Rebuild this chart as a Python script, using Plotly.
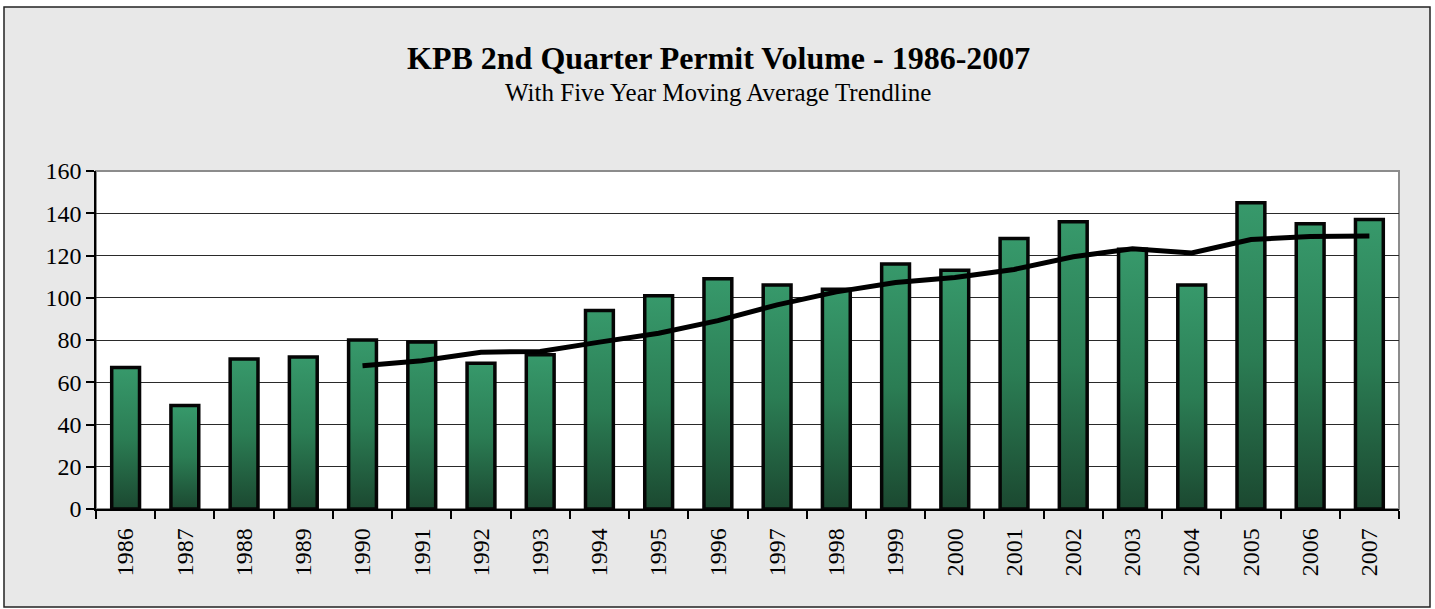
import plotly.graph_objects as go

years = list(range(1986, 2008))
permits = [67, 49, 71, 72, 80, 79, 69, 73, 94, 101, 109, 106, 104, 116, 113, 128, 136, 123, 106, 145, 135, 137]
ma_years = list(range(1990, 2008))
moving_avg = [67.8, 70.2, 74.2, 74.6, 79.0, 83.2, 89.2, 96.6, 102.8, 107.2, 109.6, 113.4, 119.4, 123.2, 121.2, 127.6, 129.0, 129.2]
y_ticks = [0, 20, 40, 60, 80, 100, 120, 140, 160]

BAR_W = 0.47
FONT = "Liberation Serif, Times New Roman, serif"
GRAD = [[0, "#1b4830"], [0.5, "#2b7d54"], [1, "#37996b"]]

fig = go.Figure()

# invisible bars for hover; plotly draws the bar layer under scatter fills
fig.add_trace(go.Bar(
    x=years, y=permits, width=BAR_W,
    marker=dict(color="rgba(0,0,0,0)", line=dict(width=0)),
    hovertemplate="%{x}: %{y}<extra></extra>", showlegend=False,
))

# gradient fills with black outline (plotly bars have no gradient)
for yr, v in zip(years, permits):
    h = BAR_W / 2
    fig.add_trace(go.Scatter(
        x=[yr - h, yr - h, yr + h, yr + h, yr - h], y=[0, v, v, 0, 0],
        mode="lines", fill="toself", line=dict(color="#050505", width=3.5),
        fillgradient=dict(type="vertical", colorscale=GRAD),
        hoverinfo="skip", showlegend=False,
    ))

fig.add_trace(go.Scatter(
    x=ma_years, y=moving_avg, mode="lines",
    line=dict(color="#000000", width=5),
    hovertemplate="%{x}: %{y:.1f}<extra>5yr avg</extra>", showlegend=False,
))

W, H = 1435, 609
L, R, T, B = 96, 36, 171, 100
pw, ph = W - L - R, H - T - B


def px_x(p):
    return (p - L) / pw


def px_y(p):
    return (H - B - p) / ph


fig.update_layout(
    width=W, height=H,
    margin=dict(l=L, r=R, t=T, b=B),
    paper_bgcolor="#ffffff", plot_bgcolor="#ffffff",
    font=dict(family=FONT, color="#000000", size=24),
    barmode="overlay",
    shapes=[
        dict(type="rect", xref="paper", yref="paper", layer="below",
             x0=px_x(4), x1=px_x(1430), y0=px_y(607), y1=px_y(7),
             fillcolor="#e8e8e8", line=dict(color="#222222", width=1.5)),
        dict(type="rect", xref="paper", yref="paper", layer="below",
             x0=0, x1=1, y0=0, y1=1,
             fillcolor="#ffffff", line=dict(color="#8c8c8c", width=2)),
    ],
    annotations=[
        dict(text="<b>KPB 2nd Quarter Permit Volume - 1986-2007</b>",
             xref="paper", yref="paper", x=px_x(718), y=px_y(58),
             xanchor="center", yanchor="middle", showarrow=False,
             font=dict(size=32, family=FONT)),
        dict(text="With Five Year Moving Average Trendline",
             xref="paper", yref="paper", x=px_x(718), y=px_y(93),
             xanchor="center", yanchor="middle", showarrow=False,
             font=dict(size=25, family=FONT)),
    ],
)

fig.update_xaxes(
    range=[years[0] - 0.5, years[-1] + 0.5],
    tickmode="array", tickvals=years, ticktext=[str(y) for y in years],
    tickangle=-90, ticks="", ticklabelstandoff=8,
    showgrid=False, zeroline=False,
    showline=True, linecolor="#000000", linewidth=1.5,
    minor=dict(tickvals=[y + 0.5 for y in years[:-1]] + [years[0] - 0.5, years[-1] + 0.5],
               ticks="outside", ticklen=8, tickcolor="#000000", tickwidth=1.5, showgrid=False),
    tickfont=dict(size=24, family=FONT),
)

fig.update_yaxes(
    range=[0, 160], tickvals=y_ticks,
    ticks="outside", ticklen=8, tickcolor="#000000", tickwidth=1.5,
    showgrid=True, gridcolor="#2a2a2a", gridwidth=1,
    zeroline=False, showline=True, linecolor="#000000", linewidth=1.5,
    tickfont=dict(size=24, family=FONT),
)

# drop the browser's default body margin so the figure sits at the page corner
fig.write_html("out.html", config={"displayModeBar": False},
               post_script="document.body.style.margin='0';")
